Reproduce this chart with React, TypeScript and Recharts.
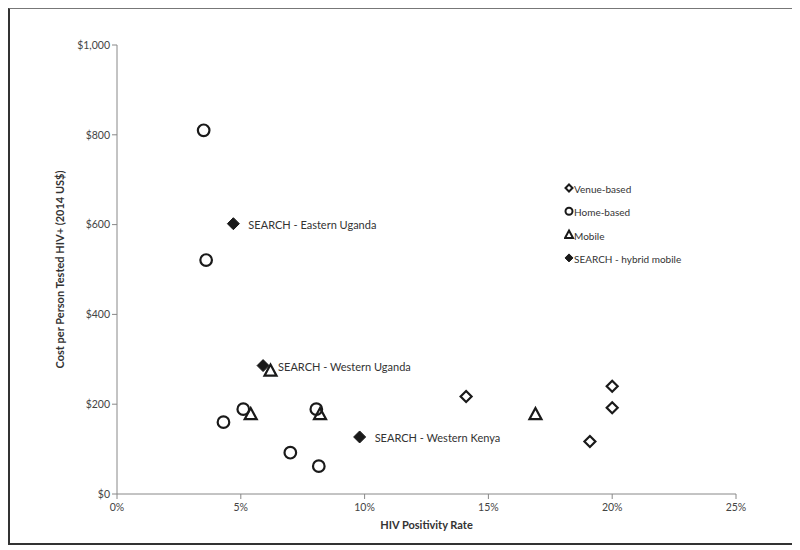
import React from 'react';
import { ScatterChart, Scatter, XAxis, YAxis, Legend } from 'recharts';

const seriesNames = ['Venue-based', 'Home-based', 'Mobile', 'SEARCH - hybrid mobile'];

const venueRate = [14.1, 20.0, 20.0, 19.1];
const venueCost = [217, 240, 192, 117];

const homeRate = [3.5, 3.6, 4.3, 5.1, 7.0, 8.05, 8.15];
const homeCost = [810, 521, 160, 189, 92, 189, 62];

const mobileRate = [6.2, 5.4, 8.2, 16.9];
const mobileCost = [275, 178, 178, 178];

const searchRate = [4.7, 5.9, 9.8];
const searchCost = [602, 286, 127];
const searchNames = ['SEARCH - Eastern Uganda', 'SEARCH - Western Uganda', 'SEARCH - Western Kenya'];

const xTicks = [0, 5, 10, 15, 20, 25];
const yTicks = [0, 200, 400, 600, 800, 1000];

const toPoints = (xs: number[], ys: number[], names?: string[]) =>
 xs.map((x, i) => ({ x, y: ys[i], name: names ? names[i] : '' }));

const venueData = toPoints(venueRate, venueCost);
const homeData = toPoints(homeRate, homeCost);
const mobileData = toPoints(mobileRate, mobileCost);
const searchData = toPoints(searchRate, searchCost, searchNames);

const INK = '#1a1a1a';
const FONT = 'Lato, "Open Sans", sans-serif';

// marker drawers, shared by the plot and the legend
const diamond = (cx: number, cy: number, r: number, filled: boolean, sw = 2) => (
 <path
  d={`M${cx},${cy - r} L${cx + r},${cy} L${cx},${cy + r} L${cx - r},${cy} Z`}
  fill={filled ? INK : 'none'}
  stroke={INK}
  strokeWidth={sw}
  strokeLinejoin="miter"
 />
);
const ring = (cx: number, cy: number, r: number, sw = 2) => (
 <circle cx={cx} cy={cy} r={r} fill="none" stroke={INK} strokeWidth={sw} />
);
const triangle = (cx: number, cy: number, r: number, sw = 2) => (
 <path
  d={`M${cx},${cy - r} L${cx + r},${cy + r * 0.85} L${cx - r},${cy + r * 0.85} Z`}
  fill="none"
  stroke={INK}
  strokeWidth={sw}
  strokeLinejoin="miter"
 />
);

const VenueShape = (p: any) => diamond(p.cx, p.cy, 5.5, false, 2.2);
const HomeShape = (p: any) => ring(p.cx, p.cy, 5.8, 2.2);
const MobileShape = (p: any) => triangle(p.cx, p.cy, 6, 2.2);
const SearchShape = (p: any) => (
 <g>
  {diamond(p.cx, p.cy, 6, true, 1)}
  <text x={p.cx + 15} y={p.cy + 1} dominantBaseline="central" fontSize={11} fontFamily={FONT} fill="#333">
   {p.payload?.name}
  </text>
 </g>
);

const legendMarkers = [
 (cx: number, cy: number) => diamond(cx, cy, 3.5, false, 2),
 (cx: number, cy: number) => ring(cx, cy, 3.5, 2),
 (cx: number, cy: number) => triangle(cx, cy, 4, 2),
 (cx: number, cy: number) => diamond(cx, cy, 4, true, 1),
];

const LegendBox = () => (
 <svg width={200} height={100}>
  {seriesNames.map((n, i) => (
   <g key={n}>
    {legendMarkers[i](5, 9 + i * 23.3)}
    <text x={10} y={10 + i * 23.3} dominantBaseline="central" fontSize={10} fontFamily={FONT} fill="#333">
     {n}
    </text>
   </g>
  ))}
 </svg>
);

const tickStyle = { fontSize: 10.5, fill: '#444', fontFamily: FONT };

export default function App() {
 return (
  <div
   style={{
    width: 784,
    height: 534,
    border: '1px solid #777',
    borderLeft: '2px solid #333',
    borderBottom: '2px solid #333',
    background: '#fff',
   }}
  >
   <ScatterChart width={783} height={533} margin={{ top: 36, right: 57, left: 0, bottom: 0 }}>
    <XAxis
     type="number"
     dataKey="x"
     domain={[0, 25]}
     ticks={xTicks}
     tickFormatter={(v: number) => `${v}%`}
     tick={tickStyle}
     tickSize={5}
     tickMargin={5}
     height={48}
     stroke="#888"
     label={{
      content: ({ viewBox }: any) => (
       <text
        x={viewBox.x + viewBox.width / 2}
        y={viewBox.y + 30}
        textAnchor="middle"
        dominantBaseline="central"
        fontSize={11}
        fontWeight="bold"
        fontFamily={FONT}
        fill="#333"
       >
        HIV Positivity Rate
       </text>
      ),
     }}
    />
    <YAxis
     type="number"
     dataKey="y"
     domain={[0, 1000]}
     ticks={yTicks}
     tickFormatter={(v: number) => `$${v.toLocaleString('en-US')}`}
     tick={tickStyle}
     tickSize={5}
     tickMargin={2}
     width={107}
     stroke="#888"
     label={{
      content: ({ viewBox }: any) => {
       const cx = viewBox.x + 49;
       const cy = viewBox.y + viewBox.height / 2;
       return (
        <text
         x={cx}
         y={cy}
         transform={`rotate(-90 ${cx} ${cy})`}
         textAnchor="middle"
         dominantBaseline="central"
         fontSize={11}
         fontWeight="bold"
         fontFamily={FONT}
         fill="#333"
        >
         Cost per Person Tested HIV+ (2014 US$)
        </text>
       );
      },
     }}
    />
    <Legend
     layout="horizontal"
     verticalAlign="middle"
     align="center"
     content={() => <LegendBox />}
     wrapperStyle={{ left: 554, top: 170, width: 200, height: 100 }}
    />
    <Scatter name={seriesNames[0]} data={venueData} shape={VenueShape} isAnimationActive={false} />
    <Scatter name={seriesNames[1]} data={homeData} shape={HomeShape} isAnimationActive={false} />
    <Scatter name={seriesNames[2]} data={mobileData} shape={MobileShape} isAnimationActive={false} />
    <Scatter name={seriesNames[3]} data={searchData} shape={SearchShape} isAnimationActive={false} />
   </ScatterChart>
  </div>
 );
}
